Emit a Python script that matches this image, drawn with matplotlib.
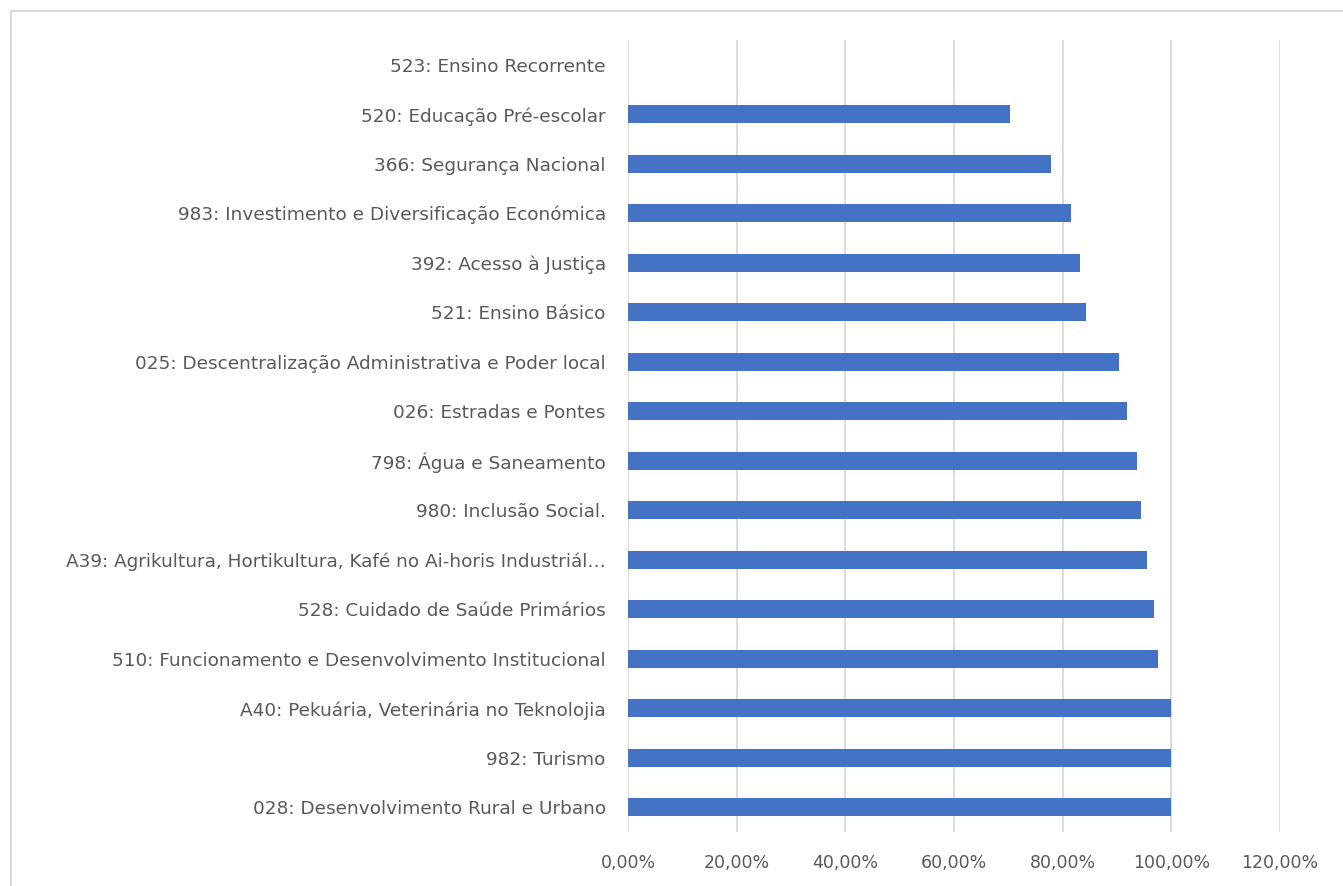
import matplotlib
matplotlib.use('Agg')
import matplotlib.pyplot as plt
from matplotlib.patches import Rectangle
from matplotlib.ticker import FuncFormatter

# categories, top to bottom as shown
categories = [
    '523: Ensino Recorrente',
    '520: Educação Pré-escolar',
    '366: Segurança Nacional',
    '983: Investimento e Diversificação Económica',
    '392: Acesso à Justiça',
    '521: Ensino Básico',
    '025: Descentralização Administrativa e Poder local',
    '026: Estradas e Pontes',
    '798: Água e Saneamento',
    '980: Inclusão Social.',
    'A39: Agrikultura, Hortikultura, Kafé no Ai-horis Industriál…',
    '528: Cuidado de Saúde Primários',
    '510: Funcionamento e Desenvolvimento Institucional',
    'A40: Pekuária, Veterinária no Teknolojia',
    '982: Turismo',
    '028: Desenvolvimento Rural e Urbano',
]
execution = [0.0, 0.703, 0.779, 0.815, 0.832, 0.843, 0.904, 0.918,
             0.937, 0.944, 0.955, 0.968, 0.975, 1.0, 1.0, 1.0]
xticks = [0.0, 0.2, 0.4, 0.6, 0.8, 1.0, 1.2]

text_color = '#595959'
bar_color = '#4472C4'
grid_color = '#D9D9D9'

fig = plt.figure(figsize=(13.43, 8.86), dpi=100)
fig.patches.append(Rectangle((11 / 1343, -0.1), 1.2, 1 - 11 / 886 + 0.1,
                             transform=fig.transFigure, fill=False,
                             edgecolor=grid_color, linewidth=1.5))

ax = fig.add_axes([628 / 1343, 54 / 886, 652 / 1343, 792 / 886])
ypos = list(range(len(categories)))
ax.barh(ypos, execution, height=0.37, color=bar_color, zorder=3)
ax.set_ylim(len(categories) - 0.5, -0.5)
ax.set_xlim(0, 1.2)
ax.set_yticks(ypos)
ax.set_yticklabels(categories)
ax.set_xticks(xticks)
ax.xaxis.set_major_formatter(FuncFormatter(
    lambda v, p: f'{v * 100:.2f}%'.replace('.', ',')))
ax.grid(axis='x', color=grid_color, linewidth=1.3, zorder=0)
for s in ax.spines.values():
    s.set_visible(False)
ax.axvline(0, color=grid_color, linewidth=1.3, zorder=1)
ax.tick_params(axis='y', length=0, colors=text_color, labelsize=13.3, pad=16)
ax.tick_params(axis='x', length=0, colors=text_color, labelsize=12.5, pad=16)

fig.savefig('out.png', dpi=100, facecolor='white')
